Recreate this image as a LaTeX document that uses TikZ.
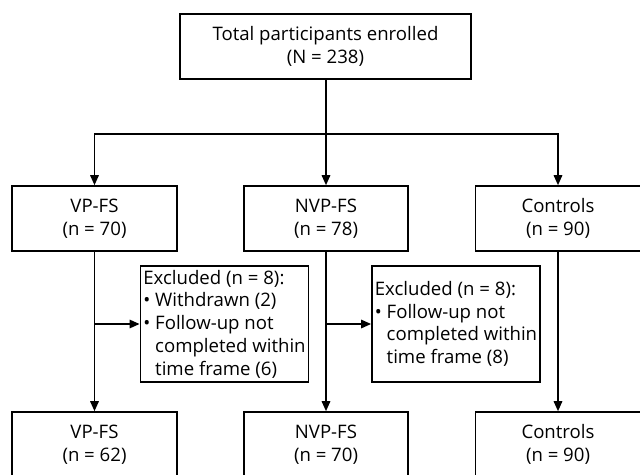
\documentclass[tikz,border=0pt]{standalone}
\usepackage{fontspec}
\setmainfont{Open Sans}
\usetikzlibrary{arrows.meta}
\begin{document}
\begin{tikzpicture}[x=1pt,y=-1pt,
  box/.style={draw, line width=1.6pt, minimum height=65pt, align=center,
    inner sep=0pt, font=\fontsize{18.6}{23.5}\selectfont},
  exbox/.style={draw, line width=1.6pt, minimum height=116pt, align=left,
    inner sep=3pt, font=\fontsize{18.6}{22.8}\selectfont},
  arr/.style={line width=1.6pt, -{Triangle[length=10pt,width=8.5pt]}}]
  \useasboundingbox (0,0) rectangle (640,474);

  % enrolment
  \node[box, minimum width=291pt] (top) at (325.5,46.5)
    {Total participants enrolled\\(N = 238)};

  % groups at baseline
  \node[box, minimum width=165pt] (vp)  at (94.5,218.5) {VP-FS\\(n = 70)};
  \node[box, minimum width=164pt] (nvp) at (326,218.5) {NVP-FS\\(n = 78)};
  \node[box, minimum width=165pt] (ctl) at (558,218.5) {Controls\\(n = 90)};

  % exclusions
  \node[exbox, minimum width=167pt] (ex1) at (224.5,324)
    {Excluded (n = 8):\\
     • Withdrawn (2)\\
     • Follow-up not\\
     \hphantom{• }completed within\\
     \hphantom{• }time frame (6)};
  \node[exbox, minimum width=168pt] (ex2) at (456,324)
    {Excluded (n = 8):\\
     • Follow-up not\\
     \hphantom{• }completed within\\
     \hphantom{• }time frame (8)};

  % groups at follow-up
  \node[box, minimum width=165pt] (vp2)  at (94.5,444.5) {VP-FS\\(n = 62)};
  \node[box, minimum width=164pt] (nvp2) at (326,444.5) {NVP-FS\\(n = 70)};
  \node[box, minimum width=165pt] (ctl2) at (558,444.5) {Controls\\(n = 90)};

  % connectors
  \coordinate (split) at (326,134);
  \draw[arr] (top.south -| nvp.north) -- (nvp.north);
  \draw[arr] (split) -| (vp.north);
  \draw[arr] (split) -| (ctl.north);

  \draw[arr] (vp.south) -- (vp2.north);
  \draw[arr] (nvp.south) -- (nvp2.north);
  \draw[arr] (ctl.south) -- (ctl2.north);

  \draw[arr] (vp.south |- ex1.west) -- (ex1.west);
  \draw[arr] (nvp.south |- ex2.west) -- (ex2.west);
\end{tikzpicture}
\end{document}
